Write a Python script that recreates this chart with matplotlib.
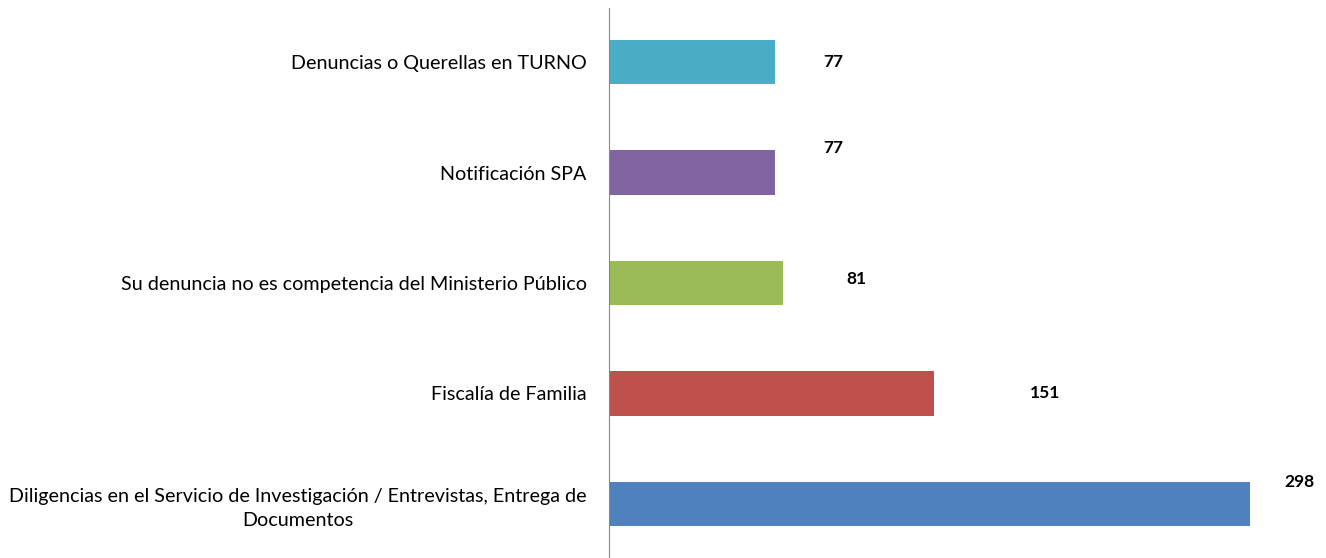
import matplotlib.pyplot as plt

categories = [
    "Diligencias en el Servicio de Investigación / Entrevistas, Entrega de\nDocumentos",
    "Fiscalía de Familia",
    "Su denuncia no es competencia del Ministerio Público",
    "Notificación SPA",
    "Denuncias o Querellas en TURNO",
]
values = [298, 151, 81, 77, 77]
colors = ["#4F81BD", "#C0504D", "#9BBB59", "#8064A2", "#4BACC6"]
# label offsets (points) as placed in the original chart
label_dx = [36, 80, 53, 42, 42]
label_dy = [16, 0, 3, 18, 0]

plt.rcParams["font.family"] = ["Lato", "DejaVu Sans"]

fig = plt.figure(figsize=(13.26, 5.58), dpi=100)
ax = fig.add_axes([609 / 1326, 0, 688 / 1326, 550 / 558])

ypos = range(len(categories))
ax.barh(ypos, values, height=0.4, color=colors)
for y, v, dx, dy in zip(ypos, values, label_dx, label_dy):
    ax.annotate(str(v), (v, y), xytext=(dx, dy), textcoords="offset points",
                ha="center", va="center", fontsize=12.5, fontweight="bold")

ax.set_xlim(0, 320)
ax.set_ylim(-0.49, 4.49)
ax.set_yticks(list(ypos))
ax.set_yticklabels(categories, fontsize=14.2)
ax.tick_params(axis="y", length=0, pad=16)
for lbl in ax.get_yticklabels():
    lbl.set_multialignment("center")
    lbl.set_linespacing(1.45)
ax.set_xticks([])
for s in ["top", "right", "bottom"]:
    ax.spines[s].set_visible(False)
ax.spines["left"].set_color("#888888")

fig.savefig("out.png", dpi=100)
